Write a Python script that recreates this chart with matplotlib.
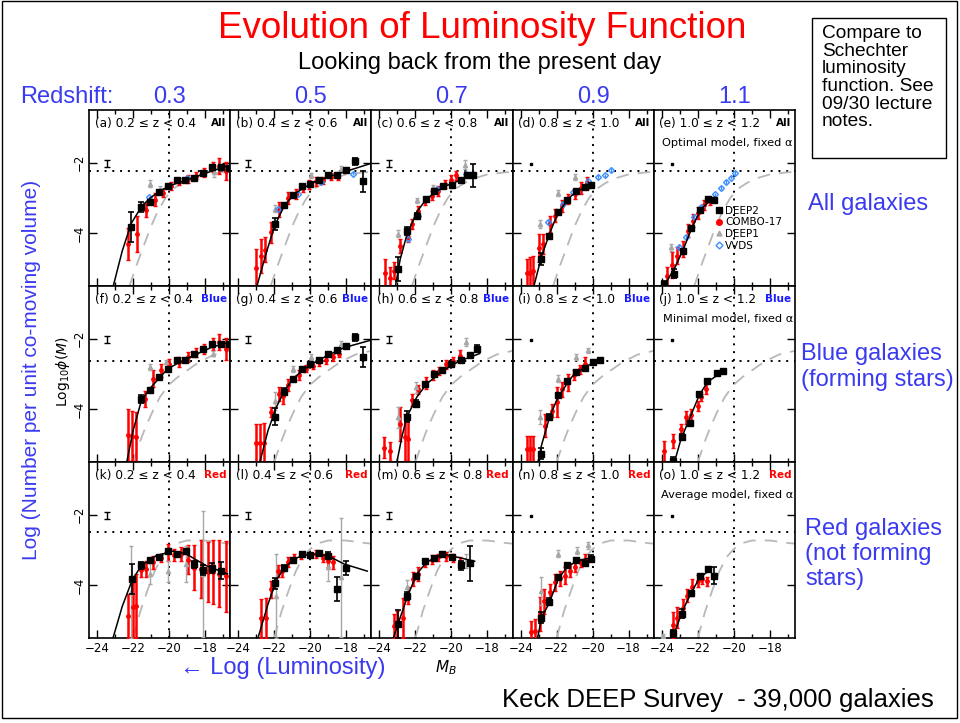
import matplotlib
matplotlib.use("Agg")
import matplotlib.pyplot as plt
from matplotlib.patches import Rectangle
from matplotlib.lines import Line2D

# ---- data: (M_B, log10 phi, error) ----
A_DEEP2 = [(-22.10, -3.83, 0.43), (-21.54, -3.26, 0.14), (-21.08, -3.12, 0.06), (-20.57, -2.83, 0.05),
           (-20.07, -2.67, 0.05), (-19.57, -2.50, 0.04), (-19.09, -2.50, 0.04), (-18.60, -2.42, 0.04),
           (-18.10, -2.29, 0.04), (-17.62, -2.12, 0.05), (-17.12, -2.12, 0.05), (-16.66, -2.14, 0.06)]
A_COMBO = [(-22.28, -4.31, 0.45), (-21.78, -4.02, 0.50), (-21.27, -3.33, 0.20), (-20.80, -3.05, 0.19),
           (-20.35, -2.86, 0.12), (-19.89, -2.66, 0.12), (-19.42, -2.54, 0.10), (-18.96, -2.46, 0.10),
           (-18.50, -2.37, 0.10), (-18.04, -2.28, 0.12), (-17.58, -2.12, 0.14), (-17.22, -2.09, 0.24),
           (-16.85, -2.24, 0.26)]
A_DEEP1 = [(-21.08, -2.60, 0.10), (-20.50, -2.75, 0.08), (-17.49, -2.25, 0.15)]
A_VVDS = [(-21.10, -2.98, 0.05), (-19.00, -2.44, 0.05)]
A_FIT = [(-23.10, -5.50), (-22.60, -4.50), (-22.10, -3.72), (-21.50, -3.22), (-21.00, -2.98), (-20.50, -2.80),
         (-20.00, -2.66), (-19.00, -2.48), (-18.00, -2.30), (-17.00, -2.13), (-16.60, -2.07)]

B_DEEP2 = [(-21.98, -3.74, 0.17), (-21.47, -3.21, 0.06), (-20.97, -2.91, 0.05), (-20.47, -2.67, 0.05),
           (-19.99, -2.59, 0.04), (-19.50, -2.50, 0.04), (-19.00, -2.34, 0.04), (-18.52, -2.34, 0.04),
           (-18.02, -2.21, 0.05), (-17.53, -1.96, 0.10), (-17.05, -2.53, 0.29)]
B_COMBO = [(-22.99, -4.99, 0.55), (-22.72, -4.64, 0.48), (-22.50, -4.47, 0.36), (-22.17, -3.98, 0.29),
           (-21.76, -3.33, 0.21), (-21.21, -2.99, 0.17), (-20.79, -2.88, 0.14), (-20.42, -2.72, 0.12),
           (-20.05, -2.62, 0.12), (-19.68, -2.53, 0.12), (-19.31, -2.50, 0.10), (-18.85, -2.40, 0.10),
           (-18.48, -2.40, 0.10)]
B_DEEP1 = [(-21.98, -3.31, 0.10), (-19.96, -2.36, 0.08), (-18.30, -2.17, 0.08)]
B_VVDS = [(-21.80, -3.31, 0.06), (-20.69, -2.88, 0.05), (-19.40, -2.55, 0.05), (-17.65, -2.31, 0.05)]
B_FIT = [(-22.99, -5.55), (-22.44, -4.55), (-21.98, -3.79), (-21.43, -3.21), (-20.88, -2.88), (-19.96, -2.59),
         (-19.03, -2.40), (-18.11, -2.26), (-16.64, -2.02)]

C_DEEP2 = [(-22.95, -5.02, 0.33), (-22.49, -3.93, 0.12), (-21.93, -3.50, 0.06), (-21.44, -3.02, 0.05),
           (-20.98, -2.81, 0.05), (-20.46, -2.67, 0.05), (-19.96, -2.62, 0.05), (-19.48, -2.50, 0.05),
           (-19.13, -2.36, 0.08), (-18.80, -2.36, 0.33)]
C_COMBO = [(-23.68, -5.14, 0.40), (-23.41, -5.26, 0.29), (-23.22, -5.07, 0.24), (-22.85, -4.36, 0.19),
           (-22.39, -4.12, 0.14), (-22.21, -3.74, 0.14), (-21.84, -3.36, 0.14), (-21.47, -3.09, 0.12),
           (-21.10, -2.93, 0.14), (-20.74, -2.79, 0.14), (-20.37, -2.61, 0.12), (-20.05, -2.50, 0.14),
           (-19.72, -2.36, 0.14)]
C_DEEP1 = [(-22.95, -4.02, 0.10), (-21.93, -3.07, 0.08), (-21.01, -2.69, 0.06), (-19.23, -2.05, 0.12)]
C_VVDS = [(-22.39, -4.17, 0.06), (-21.84, -3.50, 0.06), (-20.83, -2.74, 0.05), (-19.17, -2.31, 0.05)]
C_FIT = [(-23.13, -5.55), (-22.85, -4.74), (-22.49, -4.07), (-21.93, -3.40), (-21.38, -3.02), (-20.46, -2.69),
         (-19.54, -2.50), (-18.62, -2.31)]

D_DEEP2 = [(-22.88, -4.74, 0.17), (-22.42, -4.07, 0.06), (-21.91, -3.40, 0.05), (-21.45, -3.07, 0.05),
           (-20.93, -2.81, 0.05), (-20.43, -2.69, 0.05), (-20.10, -2.62, 0.05)]
D_COMBO = [(-23.66, -5.14, 0.40), (-23.47, -5.12, 0.43), (-23.29, -5.07, 0.43), (-23.01, -4.42, 0.40),
           (-22.74, -4.31, 0.29), (-22.37, -3.74, 0.24), (-22.09, -3.50, 0.19), (-21.72, -3.23, 0.17),
           (-21.36, -3.02, 0.14), (-20.99, -2.88, 0.14), (-20.62, -2.71, 0.17), (-20.34, -2.57, 0.17)]
D_DEEP1 = [(-22.92, -3.74, 0.12), (-21.94, -2.85, 0.08), (-20.99, -2.40, 0.08)]
D_VVDS = [(-22.46, -3.69, 0.06), (-21.63, -3.17, 0.05), (-21.08, -2.83, 0.05), (-20.25, -2.53, 0.05),
          (-19.70, -2.40, 0.05), (-19.33, -2.36, 0.05), (-18.96, -2.21, 0.05)]
D_FIT = [(-23.29, -5.55), (-22.83, -4.64), (-22.37, -3.98), (-21.91, -3.40), (-21.17, -2.93), (-20.53, -2.72),
         (-19.97, -2.60)]

E_DEEP2 = [(-23.86, -5.43, 0.06), (-23.34, -5.15, 0.12), (-22.84, -4.50, 0.06), (-22.38, -3.86, 0.05),
           (-21.89, -3.34, 0.05), (-21.43, -3.02, 0.05), (-21.13, -3.07, 0.05)]
E_COMBO = [(-23.71, -5.23, 0.26), (-23.43, -4.90, 0.36), (-23.16, -4.64, 0.24), (-22.84, -4.45, 0.24),
           (-22.57, -3.93, 0.19), (-22.29, -3.64, 0.19), (-22.01, -3.42, 0.17), (-21.65, -3.21, 0.14),
           (-21.32, -3.09, 0.10)]
E_DEEP1 = [(-23.49, -4.40, 0.10)]
E_VVDS = [(-23.03, -4.40, 0.08), (-22.66, -4.12, 0.06), (-22.20, -3.55, 0.06), (-21.83, -3.26, 0.05),
          (-21.06, -2.90, 0.05), (-20.73, -2.71, 0.05), (-20.45, -2.55, 0.05), (-20.17, -2.42, 0.05),
          (-19.93, -2.29, 0.05)]
E_FIT = [(-23.80, -5.43), (-23.30, -5.00), (-22.80, -4.45), (-22.30, -3.80), (-21.80, -3.30), (-21.10, -2.98)]

F_DEEP2 = [(-21.54, -3.71, 0.12), (-21.08, -3.45, 0.06), (-20.57, -3.09, 0.05), (-20.07, -2.85, 0.05),
           (-19.57, -2.61, 0.04), (-19.09, -2.61, 0.04), (-18.60, -2.44, 0.04), (-18.10, -2.28, 0.04),
           (-17.62, -2.14, 0.05), (-17.12, -2.14, 0.05), (-16.66, -2.14, 0.06)]
F_COMBO = [(-22.28, -4.73, 0.73), (-22.06, -4.76, 0.71), (-21.82, -4.78, 0.69), (-21.36, -3.71, 0.24),
           (-20.90, -3.14, 0.24), (-20.44, -2.90, 0.19), (-19.98, -2.71, 0.14), (-19.42, -2.66, 0.14),
           (-18.96, -2.52, 0.14), (-18.50, -2.39, 0.12), (-18.04, -2.28, 0.14), (-17.58, -2.16, 0.17),
           (-17.22, -2.09, 0.24), (-16.85, -2.30, 0.31)]
F_DEEP1 = [(-21.08, -2.80, 0.08), (-20.16, -2.66, 0.06), (-17.58, -2.42, 0.08)]
F_VVDS = []
F_FIT = [(-22.37, -5.55), (-22.00, -4.61), (-21.54, -3.76), (-21.08, -3.42), (-20.07, -2.85), (-19.06, -2.57),
         (-17.58, -2.23), (-16.57, -2.09)]

G_DEEP2 = [(-21.98, -4.21, 0.24), (-21.47, -3.50, 0.10), (-20.97, -3.14, 0.05), (-20.47, -2.87, 0.05),
           (-19.99, -2.73, 0.05), (-19.50, -2.60, 0.04), (-19.00, -2.42, 0.04), (-18.52, -2.33, 0.04),
           (-18.02, -2.21, 0.05), (-17.53, -1.95, 0.10), (-17.05, -2.52, 0.28)]
G_COMBO = [(-22.99, -4.97, 0.55), (-22.77, -4.97, 0.55), (-22.57, -4.95, 0.57), (-22.20, -4.09, 0.14),
           (-21.76, -3.57, 0.19), (-21.52, -3.63, 0.21), (-21.21, -3.30, 0.17), (-20.60, -3.04, 0.14),
           (-20.23, -2.85, 0.10), (-19.86, -2.76, 0.10), (-19.50, -2.66, 0.10), (-19.13, -2.61, 0.10),
           (-18.76, -2.52, 0.10), (-18.39, -2.44, 0.08)]
G_DEEP1 = [(-21.98, -3.76, 0.25), (-20.97, -2.85, 0.08), (-19.96, -2.52, 0.08), (-18.30, -2.14, 0.08)]
G_VVDS = []
G_FIT = [(-22.81, -5.52), (-22.35, -4.61), (-21.89, -3.95), (-21.43, -3.47), (-20.88, -3.09), (-19.96, -2.73),
         (-19.03, -2.47), (-18.11, -2.25), (-16.64, -2.04)]

H_DEEP2 = [(-22.49, -4.21, 0.15), (-21.97, -3.85, 0.10), (-21.47, -3.28, 0.05), (-20.98, -3.01, 0.05),
           (-20.50, -2.90, 0.05), (-20.00, -2.73, 0.05), (-19.48, -2.60, 0.05), (-18.99, -2.47, 0.05),
           (-18.58, -2.28, 0.10)]
H_COMBO = [(-23.74, -5.09, 0.29), (-23.44, -5.20, 0.26), (-22.85, -4.42, 0.48), (-22.58, -4.80, 0.67),
           (-22.39, -4.85, 0.62), (-22.21, -3.73, 0.17), (-21.84, -3.44, 0.12), (-21.42, -3.25, 0.17),
           (-21.05, -3.04, 0.14), (-20.68, -2.92, 0.12), (-20.28, -2.73, 0.12), (-19.91, -2.63, 0.12),
           (-19.54, -2.49, 0.17)]
H_DEEP1 = [(-22.95, -4.23, 0.30), (-21.97, -3.38, 0.15), (-21.01, -3.00, 0.08), (-19.17, -2.09, 0.12)]
H_VVDS = []
H_FIT = [(-23.04, -5.52), (-22.76, -4.80), (-22.49, -4.23), (-21.93, -3.66), (-21.38, -3.28), (-20.46, -2.90),
         (-19.54, -2.63), (-18.43, -2.42)]

I_DEEP2 = [(-22.88, -5.26, 0.15), (-22.40, -4.21, 0.06), (-21.91, -3.61, 0.05), (-21.41, -3.20, 0.05),
           (-20.93, -2.95, 0.05), (-20.43, -2.82, 0.05), (-19.97, -2.66, 0.05), (-19.61, -2.60, 0.05)]
I_COMBO = [(-23.66, -5.14, 0.38), (-23.47, -5.14, 0.38), (-23.29, -5.14, 0.38), (-22.64, -4.47, 0.33),
           (-22.28, -4.04, 0.19), (-22.00, -3.80, 0.43), (-21.72, -3.44, 0.21), (-21.36, -3.23, 0.24),
           (-21.02, -3.04, 0.14), (-20.71, -2.87, 0.12), (-20.43, -2.71, 0.19)]
I_DEEP1 = [(-22.92, -4.23, 0.20), (-21.91, -3.14, 0.10), (-20.90, -2.52, 0.08), (-20.25, -2.33, 0.08)]
I_VVDS = []
I_FIT = [(-23.05, -5.52), (-22.83, -5.00), (-22.40, -4.23), (-21.91, -3.64), (-21.17, -3.09), (-20.43, -2.80),
         (-19.61, -2.60)]

J_DEEP2 = [(-23.37, -5.47, 0.10), (-22.91, -4.78, 0.08), (-22.43, -4.38, 0.05), (-21.93, -3.57, 0.05),
           (-21.47, -3.19, 0.05), (-20.95, -2.98, 0.05), (-20.59, -2.92, 0.05)]
J_COMBO = [(-23.86, -5.19, 0.29), (-23.40, -4.90, 0.19), (-22.94, -4.57, 0.14), (-22.67, -4.23, 0.19),
           (-22.39, -4.16, 0.17), (-22.02, -3.90, 0.14), (-21.80, -3.66, 0.10), (-21.56, -3.42, 0.14)]
J_DEEP1 = []
J_VVDS = []
J_FIT = [(-23.31, -5.52), (-22.94, -4.85), (-22.43, -4.23), (-21.93, -3.61), (-21.47, -3.23), (-20.59, -2.92)]

K_DEEP2 = [(-22.06, -3.82, 0.43), (-21.54, -3.44, 0.10), (-21.05, -3.28, 0.06), (-20.57, -3.19, 0.06),
           (-20.07, -3.04, 0.06), (-19.57, -3.11, 0.06), (-19.06, -3.04, 0.08), (-18.60, -3.40, 0.10),
           (-18.10, -3.57, 0.14), (-17.62, -3.51, 0.14), (-17.12, -3.59, 0.24)]
K_COMBO = [(-22.28, -4.87, 0.62), (-22.00, -4.63, 0.86), (-21.82, -4.59, 0.90), (-21.54, -3.56, 0.21),
           (-21.27, -3.54, 0.24), (-20.90, -3.35, 0.19), (-20.44, -3.22, 0.12), (-20.07, -3.06, 0.24),
           (-19.70, -3.13, 0.17), (-19.33, -3.11, 0.19), (-18.96, -3.27, 0.40), (-18.60, -3.51, 0.64),
           (-18.23, -3.54, 0.81), (-17.86, -3.63, 0.86), (-17.58, -3.63, 0.90), (-17.22, -3.68, 0.95),
           (-16.85, -3.75, 1.00)]
K_DEEP1 = [(-22.10, -4.20, 1.30), (-21.08, -3.68, 0.30), (-20.07, -3.60, 0.30), (-19.06, -3.40, 0.50),
           (-18.10, -3.68, 1.80)]
K_VVDS = []
K_FIT = [(-23.11, -5.49), (-22.60, -4.60), (-22.06, -3.87), (-21.54, -3.44), (-20.71, -3.16), (-19.79, -3.03),
         (-19.06, -3.11), (-17.95, -3.44), (-16.75, -3.68)]

L_DEEP2 = [(-21.98, -3.95, 0.15), (-21.47, -3.51, 0.08), (-20.97, -3.28, 0.05), (-20.47, -3.11, 0.05),
           (-19.99, -3.13, 0.05), (-19.50, -3.09, 0.05), (-19.04, -3.16, 0.10), (-18.52, -4.11, 0.33),
           (-18.02, -3.51, 0.20)]
L_COMBO = [(-22.72, -4.94, 0.55), (-22.44, -4.92, 0.57), (-22.20, -4.11, 0.24), (-21.80, -3.61, 0.17),
           (-21.58, -3.61, 0.17), (-21.24, -3.35, 0.14), (-20.88, -3.22, 0.12), (-20.51, -3.16, 0.10),
           (-19.68, -3.11, 0.12), (-19.31, -3.22, 0.12), (-19.03, -3.30, 0.19), (-18.76, -3.35, 0.19)]
L_DEEP1 = [(-21.89, -4.30, 1.20), (-19.03, -3.49, 0.40), (-18.30, -3.78, 1.70)]
L_VVDS = []
L_FIT = [(-22.90, -5.49), (-22.35, -4.54), (-21.89, -3.87), (-21.43, -3.49), (-20.69, -3.21), (-19.96, -3.11),
         (-19.03, -3.16), (-18.11, -3.40), (-16.83, -3.60)]

M_DEEP2 = [(-22.95, -5.11, 0.40), (-22.45, -4.30, 0.12), (-21.97, -3.73, 0.06), (-21.47, -3.32, 0.05),
           (-20.98, -3.22, 0.05), (-20.50, -3.11, 0.05), (-19.96, -3.19, 0.06), (-19.48, -3.44, 0.12),
           (-18.99, -3.38, 0.50)]
M_COMBO = [(-23.22, -5.16, 0.33), (-23.00, -5.11, 0.38), (-22.71, -4.92, 0.57), (-22.39, -4.30, 0.24),
           (-22.12, -3.82, 0.19), (-21.84, -3.68, 0.19), (-21.47, -3.37, 0.12), (-21.10, -3.27, 0.12),
           (-20.74, -3.21, 0.10), (-20.28, -3.18, 0.12), (-19.91, -3.22, 0.12), (-19.54, -3.35, 0.14)]
M_DEEP1 = [(-22.49, -4.06, 0.20), (-19.17, -3.30, 0.20)]
M_VVDS = []
M_FIT = [(-23.22, -5.49), (-22.85, -4.92), (-22.39, -4.25), (-21.93, -3.68), (-21.38, -3.35), (-20.50, -3.11),
         (-19.54, -3.22), (-18.71, -3.32)]

N_DEEP2 = [(-22.88, -4.92, 0.15), (-22.40, -4.47, 0.10), (-21.91, -3.78, 0.06), (-21.41, -3.42, 0.05),
           (-20.93, -3.28, 0.05), (-20.43, -3.38, 0.06), (-20.10, -3.25, 0.10)]
N_COMBO = [(-23.42, -5.32, 0.30), (-23.20, -5.30, 0.33), (-22.92, -4.82, 0.48), (-22.68, -4.46, 0.36),
           (-22.37, -4.20, 0.24), (-22.09, -3.92, 0.24), (-21.82, -3.80, 0.21), (-21.54, -3.73, 0.24),
           (-21.26, -3.59, 0.19), (-20.99, -3.49, 0.14), (-20.66, -3.37, 0.12), (-20.40, -3.27, 0.17)]
N_DEEP1 = [(-22.88, -4.16, 0.40), (-21.91, -3.11, 0.10), (-20.89, -3.02, 0.10), (-20.25, -2.87, 0.10)]
N_VVDS = []
N_FIT = [(-23.10, -5.59), (-22.83, -4.92), (-22.40, -4.49), (-21.91, -3.82), (-21.36, -3.44), (-20.62, -3.28),
         (-20.07, -3.22)]

O_DEEP2 = [(-23.37, -5.37, 0.10), (-22.89, -4.81, 0.12), (-22.39, -4.23, 0.06), (-21.89, -3.73, 0.05),
           (-21.43, -3.54, 0.05), (-21.10, -3.73, 0.25)]
O_COMBO = [(-23.40, -5.13, 0.36), (-23.16, -4.92, 0.29), (-22.85, -4.65, 0.26), (-22.58, -4.30, 0.19),
           (-22.30, -4.06, 0.24), (-22.02, -3.89, 0.17), (-21.75, -3.82, 0.14), (-21.47, -3.89, 0.12)]
O_DEEP1 = [(-23.96, -5.44, 0.04)]
O_VVDS = []
O_FIT = [(-23.40, -5.49), (-22.85, -4.73), (-22.39, -4.23), (-21.89, -3.78), (-21.38, -3.59)]

# local reference LF (grey dashed), one per row
REF_ALL = [(-22.2, -5.5), (-21.8, -4.9), (-21.4, -4.35), (-21.0, -3.8), (-20.6, -3.35), (-20.2, -3.0),
           (-19.8, -2.75), (-19.3, -2.58), (-18.8, -2.45), (-18.0, -2.33), (-17.0, -2.27), (-16.6, -2.26)]
REF_BLUE = [(-22.0, -5.5), (-21.6, -4.9), (-21.3, -4.5), (-20.9, -4.05), (-20.5, -3.65), (-20.0, -3.3),
            (-19.5, -3.08), (-19.0, -2.9), (-18.3, -2.65), (-17.5, -2.45), (-16.6, -2.34)]
REF_RED = [(-22.0, -5.5), (-21.6, -4.75), (-21.2, -4.15), (-20.8, -3.6), (-20.4, -3.2), (-20.0, -2.97),
           (-19.5, -2.8), (-19.0, -2.73), (-18.0, -2.73), (-17.0, -2.8), (-16.6, -2.82)]
ROW_LEVEL = [-2.24, -2.63, -2.49]      # horizontal dotted line per row

ROW_KIND = ["All", "Blue", "Red"]
ROW_KIND_COLOR = ["black", "#1a1aff", "red"]
ROW_REF = [REF_ALL, REF_BLUE, REF_RED]
Z_EDGES = ["0.2", "0.4", "0.6", "0.8", "1.0", "1.2"]
Z_MID = ["0.3", "0.5", "0.7", "0.9", "1.1"]
LETTERS = "abcdefghijklmno"
MODEL_NOTE = {4: "Optimal model, fixed \u03b1", 9: "Minimal model, fixed \u03b1", 14: "Average model, fixed \u03b1"}
RIGHT_LABELS = ["All galaxies", "Blue galaxies\n(forming stars)", "Red galaxies\n(not forming\nstars)"]

PANELS = [
    (A_DEEP2, A_COMBO, A_DEEP1, A_VVDS, A_FIT), (B_DEEP2, B_COMBO, B_DEEP1, B_VVDS, B_FIT),
    (C_DEEP2, C_COMBO, C_DEEP1, C_VVDS, C_FIT), (D_DEEP2, D_COMBO, D_DEEP1, D_VVDS, D_FIT),
    (E_DEEP2, E_COMBO, E_DEEP1, E_VVDS, E_FIT), (F_DEEP2, F_COMBO, F_DEEP1, F_VVDS, F_FIT),
    (G_DEEP2, G_COMBO, G_DEEP1, G_VVDS, G_FIT), (H_DEEP2, H_COMBO, H_DEEP1, H_VVDS, H_FIT),
    (I_DEEP2, I_COMBO, I_DEEP1, I_VVDS, I_FIT), (J_DEEP2, J_COMBO, J_DEEP1, J_VVDS, J_FIT),
    (K_DEEP2, K_COMBO, K_DEEP1, K_VVDS, K_FIT), (L_DEEP2, L_COMBO, L_DEEP1, L_VVDS, L_FIT),
    (M_DEEP2, M_COMBO, M_DEEP1, M_VVDS, M_FIT), (N_DEEP2, N_COMBO, N_DEEP1, N_VVDS, N_FIT),
    (O_DEEP2, O_COMBO, O_DEEP1, O_VVDS, O_FIT),
]

W, H = 960, 723
SLIDE_BLUE = "#3a3af0"
GREY = "#a8a8a8"
VVDS_BLUE = "#3d8fff"
SANS = ["Liberation Sans", "DejaVu Sans"]

plt.rcParams["font.family"] = ["DejaVu Sans"]


def fx(x):
    return x / W


def fy(y):
    return 1 - y / H


def draw_points(ax, pts, **kw):
    if not pts:
        return
    m, y, e = zip(*pts)
    ax.errorbar(m, y, yerr=e, **kw)


fig = plt.figure(figsize=(9.6, 7.23), dpi=100)

GRID_L, GRID_T = 89, 110
PW, PH = 141.2, 176

for idx, (deep2, combo, deep1, vvds, fit) in enumerate(PANELS):
    r, c = divmod(idx, 5)
    ax = fig.add_axes([fx(GRID_L + c * PW), fy(GRID_T + (r + 1) * PH), PW / W, PH / H])
    ax.set_xlim(-24.45, -16.6)
    ax.set_ylim(-5.5, -0.5)

    ax.axvline(-20, color="k", lw=1.4, ls=(0, (1, 3)), zorder=1)
    ax.axhline(ROW_LEVEL[r], color="k", lw=1.4, ls=(0, (1, 3)), zorder=1)
    rm, ry = zip(*ROW_REF[r])
    ax.plot(rm, ry, color="#b8b8b8", lw=1.3, dashes=(7, 5), zorder=2)

    draw_points(ax, combo, fmt="o", color="red", ms=2.5, elinewidth=1.8, capsize=1.5, capthick=1, zorder=3)
    draw_points(ax, deep1, fmt="^", color=GREY, ms=3, elinewidth=1, capsize=1.5, zorder=3)
    draw_points(ax, vvds, fmt="D", color=VVDS_BLUE, mfc="none", ms=3, elinewidth=1, zorder=3)
    fm, fyv = zip(*fit)
    ax.plot(fm, fyv, color="k", lw=1.1, zorder=4)
    draw_points(ax, deep2, fmt="s", color="k", ms=4.5, elinewidth=1.2, capsize=2.5, capthick=1.2, zorder=5)

    # typical error bar symbol
    if c < 3:
        ax.errorbar([-23.45], [-2.02], yerr=[0.1], fmt="none", ecolor="k", elinewidth=1, capsize=2)
    else:
        ax.plot([-23.45], [-2.02], "s", color="k", ms=2)

    ax.text(0.04, 0.925, "({}) {} \u2264 z < {}".format(LETTERS[idx], Z_EDGES[c], Z_EDGES[c + 1]),
            transform=ax.transAxes, fontsize=8.7, ha="left", va="center")
    ax.text(0.975, 0.925, ROW_KIND[r], color=ROW_KIND_COLOR[r], fontweight="bold",
            transform=ax.transAxes, fontsize=7.5, ha="right", va="center")
    if idx in MODEL_NOTE:
        ax.text(0.985, 0.81, MODEL_NOTE[idx], transform=ax.transAxes, fontsize=8.2,
                ha="right", va="center")

    ax.set_xticks([-24, -22, -20, -18])
    ax.set_xticks([-23, -21, -19, -17], minor=True)
    ax.set_yticks([-2, -4])
    ax.tick_params(which="both", direction="in", top=True, right=True, width=1)
    ax.tick_params(which="major", length=6)
    ax.tick_params(which="minor", length=3)
    ax.tick_params(axis="x", labelsize=8.5, pad=3)
    ax.tick_params(axis="y", labelsize=8.5, labelrotation=90, pad=2)
    if r < 2:
        ax.tick_params(axis="x", labelbottom=False)
    if c > 0:
        ax.tick_params(axis="y", labelleft=False)
    else:
        for lab in ax.get_yticklabels():
            lab.set_va("center")
    for sp in ax.spines.values():
        sp.set_linewidth(1.2)

    if idx == 4:
        handles = [
            Line2D([], [], marker="s", color="k", ls="none", ms=4, label="DEEP2"),
            Line2D([], [], marker="o", color="red", ls="none", ms=4, label="COMBO-17"),
            Line2D([], [], marker="^", color=GREY, ls="none", ms=3.5, label="DEEP1"),
            Line2D([], [], marker="D", color=VVDS_BLUE, mfc="none", ls="none", ms=3.5, label="VVDS"),
        ]
        ax.legend(handles=handles, loc="upper left", bbox_to_anchor=(0.44, 0.455), frameon=False,
                  fontsize=7.5, handlelength=0.6, handletextpad=0.3, labelspacing=0.15,
                  borderpad=0, borderaxespad=0)

# ---- slide text ----
fig.text(fx(482), fy(28), "Evolution of Luminosity Function", color="red", fontsize=26.5,
         ha="center", va="center", family=SANS)
fig.text(fx(480), fy(63), "Looking back from the present day", color="k", fontsize=17,
         ha="center", va="center", family=SANS)
fig.text(fx(20), fy(97), "Redshift:", color=SLIDE_BLUE, fontsize=17, ha="left", va="center", family=SANS)
for c, z in enumerate(Z_MID):
    fig.text(fx(GRID_L + (c + 0.5) * PW + 10), fy(97), z, color=SLIDE_BLUE, fontsize=17,
             ha="center", va="center", family=SANS)

fig.patches.append(Rectangle((fx(812), fy(158)), (946 - 812) / W, (158 - 18) / H,
                             transform=fig.transFigure, fill=False, ec="k", lw=1))
fig.text(fx(822), fy(25), "Compare to\nSchechter\nluminosity\nfunction. See\n09/30 lecture\nnotes.",
         fontsize=13.8, linespacing=1.05, ha="left", va="top", family=SANS)

for (x, y), lab in zip([(808, 204), (801, 367), (805, 554)], RIGHT_LABELS):
    fig.text(fx(x), fy(y), lab, color=SLIDE_BLUE, fontsize=17, ha="left", va="center",
             linespacing=1.2, family=SANS)

fig.text(fx(32), fy(370), "Log (Number per unit co-moving volume)", color=SLIDE_BLUE, fontsize=15,
         rotation=90, ha="center", va="center", family=SANS)
fig.text(fx(63), fy(372), r"Log$_{10}\phi(M)$", fontsize=10, rotation=90, ha="center", va="center")
fig.text(fx(180), fy(668), "\u2190 Log (Luminosity)", color=SLIDE_BLUE, fontsize=17,
         ha="left", va="center", family=SANS)
fig.text(fx(446), fy(668), r"$M_B$", fontsize=11, ha="center", va="center")
fig.text(fx(502), fy(700), "Keck DEEP Survey  - 39,000 galaxies", color="k", fontsize=18.5,
         ha="left", va="center", family=SANS)

fig.patches.append(Rectangle((fx(2), fy(718)), (957 - 2) / W, (718 - 1) / H,
                             transform=fig.transFigure, fill=False, ec="k", lw=1))

fig.savefig("out.png", dpi=100)
